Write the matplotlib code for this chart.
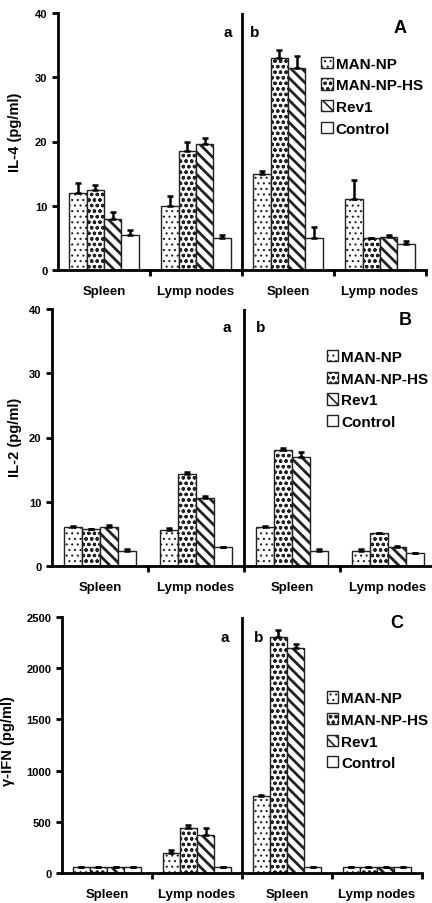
import matplotlib
matplotlib.use("Agg")
import matplotlib.pyplot as plt
import numpy as np

plt.rcParams['font.family'] = ['Liberation Sans', 'DejaVu Sans']
plt.rcParams['hatch.linewidth'] = 1.0

categories = ["Spleen", "Lymp nodes", "Spleen", "Lymp nodes"]
series = ["MAN-NP", "MAN-NP-HS", "Rev1", "Control"]
hatches = ["...", "ooo", "\\\\\\", ""]
hatch_lw = [0.8, 0.9, 2.0, 1.0]

# Panel A: IL-4
il4_vals = {
    "MAN-NP":    [12.0, 10.0, 15.0, 11.0],
    "MAN-NP-HS": [12.5, 18.5, 33.0, 5.0],
    "Rev1":      [8.0, 19.6, 31.5, 5.1],
    "Control":   [5.5, 5.0, 5.0, 4.1],
}
il4_err = {
    "MAN-NP":    [1.5, 1.5, 0.4, 3.0],
    "MAN-NP-HS": [0.7, 1.5, 1.3, 0.0],
    "Rev1":      [1.0, 1.0, 1.8, 0.3],
    "Control":   [0.8, 0.4, 1.7, 0.4],
}
# Panel B: IL-2
il2_vals = {
    "MAN-NP":    [6.0, 5.6, 6.0, 2.4],
    "MAN-NP-HS": [5.7, 14.3, 18.0, 5.1],
    "Rev1":      [6.0, 10.6, 17.0, 3.0],
    "Control":   [2.4, 3.0, 2.4, 2.0],
}
il2_err = {
    "MAN-NP":    [0.3, 0.3, 0.2, 0.2],
    "MAN-NP-HS": [0.1, 0.4, 0.4, 0.1],
    "Rev1":      [0.4, 0.3, 0.8, 0.1],
    "Control":   [0.2, 0.0, 0.2, 0.0],
}
# Panel C: gamma-IFN
ifn_vals = {
    "MAN-NP":    [60, 200, 750, 60],
    "MAN-NP-HS": [60, 440, 2300, 60],
    "Rev1":      [60, 370, 2200, 60],
    "Control":   [60, 60, 60, 60],
}
ifn_err = {
    "MAN-NP":    [0, 20, 15, 0],
    "MAN-NP-HS": [0, 30, 70, 0],
    "Rev1":      [0, 70, 40, 0],
    "Control":   [0, 0, 0, 0],
}

panels = [
    dict(vals=il4_vals, err=il4_err, ylabel="IL-4 (pg/ml)", ymax=40, yticks=[0, 10, 20, 30, 40],
         letter="A", rect=[58/432, 633/904, 368/432, 257/904],
         a_pos=(1.84, 37), b_pos=(2.14, 37), L_pos=(3.72, 37.8),
         leg_anchor=(0.715, 0.83), ylab_xy=(-0.098, 0.54)),
    dict(vals=il2_vals, err=il2_err, ylabel="IL-2 (pg/ml)", ymax=40, yticks=[0, 10, 20, 30, 40],
         letter="B", rect=[52/432, 337/904, 384/432, 257/904],
         a_pos=(1.82, 37.2), b_pos=(2.17, 37.2), L_pos=(3.68, 38.4),
         leg_anchor=(0.715, 0.84), ylab_xy=(-0.078, 0.506)),
    dict(vals=ifn_vals, err=ifn_err, ylabel="γ-IFN (pg/ml)", ymax=2500, yticks=[0, 500, 1000, 1500, 2000, 2500],
         letter="C", rect=[62/432, 30/904, 360/432, 256/904],
         a_pos=(1.81, 2305), b_pos=(2.18, 2305), L_pos=(3.72, 2451),
         leg_anchor=(0.735, 0.71), ylab_xy=(-0.13, 0.52)),
]


def set_hlw(patch, lw):
    if hasattr(patch, "set_hatch_linewidth"):
        patch.set_hatch_linewidth(lw)
    else:
        patch._hatch_linewidth = lw


fig = plt.figure(figsize=(4.32, 9.04), dpi=100)
w = 0.19
x = np.arange(len(categories)) + 0.5
for p in panels:
    ax = fig.add_axes(p["rect"])
    handles = []
    for i, s in enumerate(series):
        xs = x + (i - 1.5) * w
        b = ax.bar(xs, p["vals"][s], width=w, color="white", edgecolor="#222222",
                   linewidth=1.0, hatch=hatches[i], label=s, zorder=2)
        for r in b.patches:
            set_hlw(r, hatch_lw[i])
        handles.append(b)
        err = np.array(p["err"][s], dtype=float)
        yerr = [np.zeros_like(err), err]
        ax.errorbar(xs, p["vals"][s], yerr=yerr, fmt="none", ecolor="black",
                    elinewidth=1.8, capsize=2.5, capthick=1.8, zorder=3)
    ax.set_xlim(0, 4)
    ax.set_ylim(0, p["ymax"])
    ax.set_yticks(p["yticks"])
    ax.set_yticklabels([str(t) for t in p["yticks"]], fontsize=8, fontweight="bold")
    ax.set_xticks([1, 2, 3, 4])
    ax.set_xticklabels([])
    ax.set_xticks(x, minor=True)
    ax.set_xticklabels(categories, minor=True, fontsize=9.5, fontweight="bold")
    ax.tick_params(axis="x", which="minor", length=0, pad=11)
    ax.tick_params(axis="x", which="major", length=4, width=2, direction="out")
    ax.tick_params(axis="y", length=4, width=2, direction="out")
    for sp in ["top", "right"]:
        ax.spines[sp].set_visible(False)
    ax.spines["left"].set_linewidth(2)
    ax.spines["bottom"].set_linewidth(2)
    ax.axvline(2, color="black", linewidth=2, zorder=4)
    ax.set_ylabel(p["ylabel"], fontsize=10.5, fontweight="bold")
    ax.yaxis.set_label_coords(*p["ylab_xy"])
    ax.text(*p["a_pos"], "a", fontsize=11, fontweight="bold", ha="center", va="center")
    ax.text(*p["b_pos"], "b", fontsize=11, fontweight="bold", ha="center", va="center")
    ax.text(*p["L_pos"], p["letter"], fontsize=13, fontweight="bold", ha="center", va="center")
    leg = ax.legend(handles=handles, labels=series, loc="upper left", bbox_to_anchor=p["leg_anchor"],
                    frameon=False, prop={"size": 11, "weight": "bold"}, handlelength=0.75, handleheight=0.75,
                    handletextpad=0.2, labelspacing=0.5, borderaxespad=0, borderpad=0)
    for i, h in enumerate(leg.legend_handles):
        set_hlw(h, min(hatch_lw[i], 1.2))

fig.savefig("out.png", dpi=100)
